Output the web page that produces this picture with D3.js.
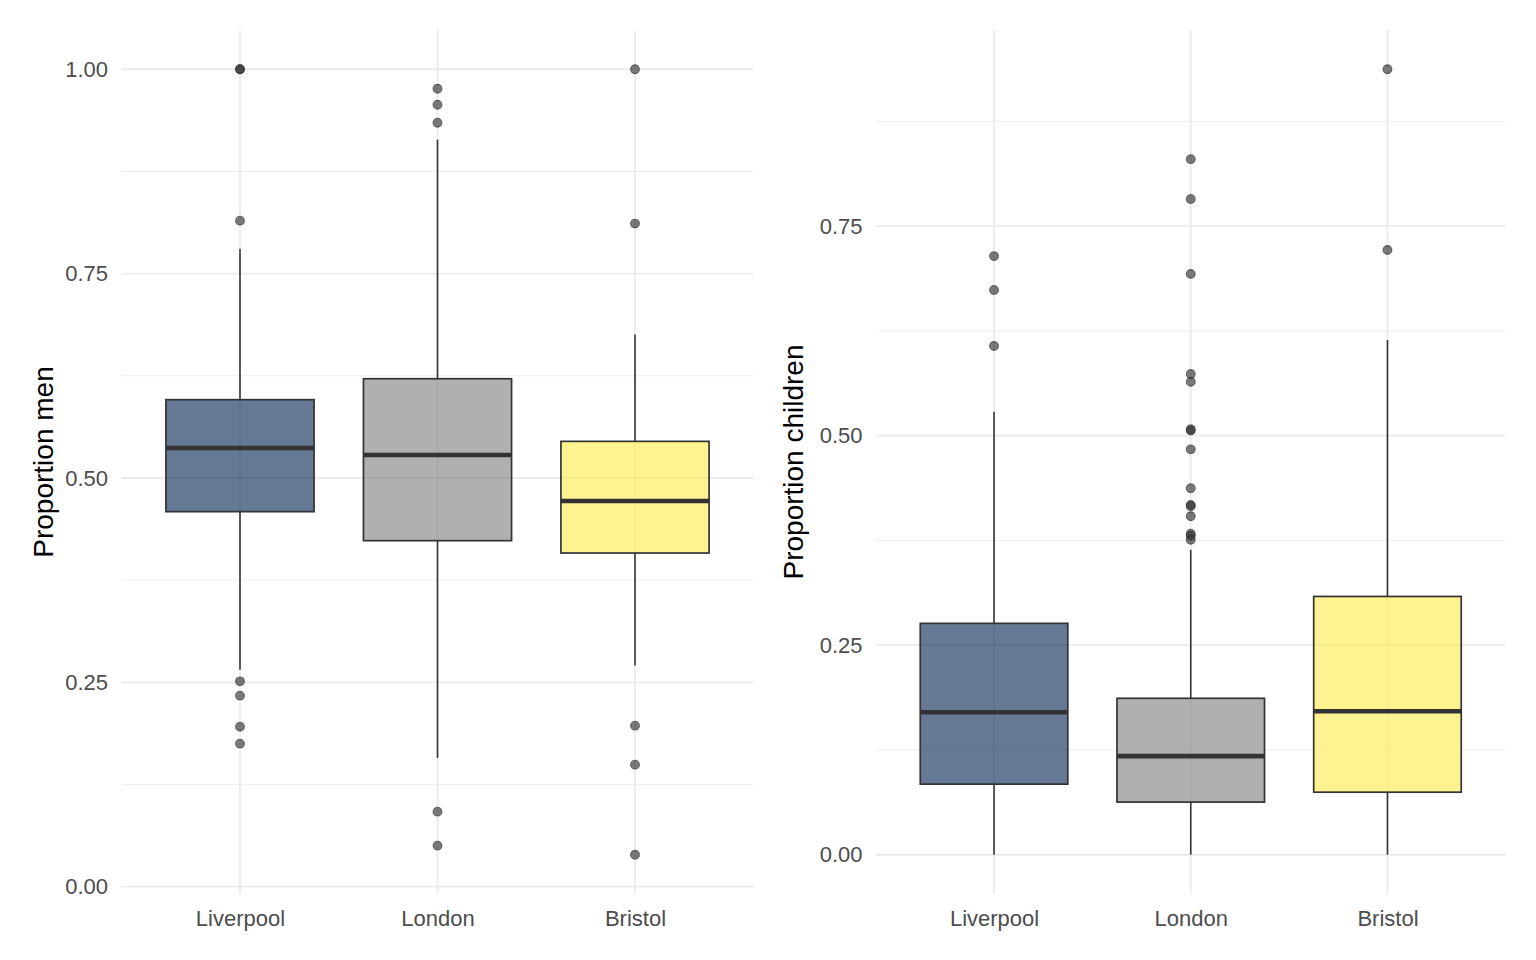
<!DOCTYPE html>
<html>
<head>
<meta charset="utf-8">
<script src="https://cdn.jsdelivr.net/npm/d3@7"></script>
<style>
  html, body { margin: 0; padding: 0; background: #fff; }
  svg { display: block; font-family: 'Liberation Sans', Arial, sans-serif; }
</style>
</head>
<body>
<svg id="canvas"></svg>
<script>
const width = 1536;
const height = 960;

const cities = ['Liverpool', 'London', 'Bristol'];
const cityColours = ['#00204D', '#7C7B78', '#FFEA46'];

// proportion men (left panel)
const menLower = [0.2655, 0.1574, 0.2707];
const menQ1 = [0.4588, 0.4233, 0.4082];
const menMedian = [0.5367, 0.5281, 0.4719];
const menQ3 = [0.5958, 0.6214, 0.5448];
const menUpper = [0.7805, 0.9139, 0.6754];
const menOutliers = [
    [1.0, 1.0, 0.8148, 0.2512, 0.2337, 0.1957, 0.1750],
    [0.9762, 0.9566, 0.9345, 0.0918, 0.0502],
    [1.0, 0.8112, 0.1970, 0.1493, 0.0391]
];
const menTicks = [0, 0.25, 0.5, 0.75, 1.0];

// proportion children (right panel)
const childLower = [0, 0, 0];
const childQ1 = [0.0842, 0.0628, 0.0746];
const childMedian = [0.1700, 0.1176, 0.1711];
const childQ3 = [0.2760, 0.1866, 0.3081];
const childUpper = [0.5283, 0.3637, 0.6141];
const childOutliers = [
    [0.7141, 0.6736, 0.6069],
    [0.8298, 0.7822, 0.6929, 0.5734, 0.5642, 0.5075, 0.5060, 0.4836, 0.4371,
     0.4172, 0.4158, 0.4038, 0.3830, 0.3805, 0.3757],
    [0.9370, 0.7214]
];
const childTicks = [0, 0.25, 0.5, 0.75];

const panelTop = 30;
const panelBottom = 894;

const svg = d3.select('#canvas')
    .attr('width', width)
    .attr('height', height)

svg.append('rect')
    .attr('width', width)
    .attr('height', height)
    .attr('fill', '#fff')

const fmt = d3.format('.2f');

const drawPanel = (p) => {
    const rows = cities.map((c, i) => ({
        city: c,
        colour: cityColours[i],
        lower: p.lower[i],
        q1: p.q1[i],
        median: p.median[i],
        q3: p.q3[i],
        upper: p.upper[i],
        outliers: p.outliers[i]
    }));

    // ggplot style 5% expansion of the data range
    const all = rows.flatMap(d => [d.lower, d.upper, ...d.outliers]);
    const lo = d3.min(all);
    const hi = d3.max(all);
    const pad = (hi - lo) * 0.05;

    const y = d3.scaleLinear()
        .domain([lo - pad, hi + pad])
        .range([panelBottom, panelTop]);

    const x = d3.scalePoint()
        .domain(cities)
        .range([p.left, p.right])
        .padding(0.6);

    const boxW = x.step() * 0.75;

    const g = svg.append('g');

    // minor gridlines
    const minor = p.ticks.slice(0, -1).map((t, i) => (t + p.ticks[i + 1]) / 2)
        .concat([p.ticks[p.ticks.length - 1] + 0.125])
        .filter(v => v < y.domain()[1]);

    g.selectAll('.minor')
        .data(minor)
        .enter()
        .append('line')
        .attr('x1', p.left)
        .attr('x2', p.right)
        .attr('y1', d => y(d))
        .attr('y2', d => y(d))
        .attr('stroke', '#EBEBEB')
        .attr('stroke-width', 0.9)

    g.selectAll('.major')
        .data(p.ticks)
        .enter()
        .append('line')
        .attr('x1', p.left)
        .attr('x2', p.right)
        .attr('y1', d => y(d))
        .attr('y2', d => y(d))
        .attr('stroke', '#EBEBEB')
        .attr('stroke-width', 1.8)

    g.selectAll('.vgrid')
        .data(cities)
        .enter()
        .append('line')
        .attr('x1', d => x(d))
        .attr('x2', d => x(d))
        .attr('y1', panelTop)
        .attr('y2', panelBottom)
        .attr('stroke', '#EBEBEB')
        .attr('stroke-width', 1.8)

    // axes (labels only)
    const yAxis = d3.axisLeft(y)
        .tickValues(p.ticks)
        .tickFormat(fmt)
        .tickSize(0)
        .tickPadding(13.5)

    const xAxis = d3.axisBottom(x)
        .tickSize(0)
        .tickPadding(16.4)

    const ya = g.append('g')
        .attr('transform', 'translate(' + p.left + ',0)')
        .call(yAxis)
    ya.select('.domain').remove()
    ya.selectAll('text')
        .attr('font-size', 22)
        .attr('font-family', "'Liberation Sans', Arial, sans-serif")
        .attr('fill', '#4D4D4D')

    const xa = g.append('g')
        .attr('transform', 'translate(0,' + panelBottom + ')')
        .call(xAxis)
    xa.select('.domain').remove()
    xa.selectAll('text')
        .attr('font-size', 22)
        .attr('font-family', "'Liberation Sans', Arial, sans-serif")
        .attr('fill', '#4D4D4D')

    // axis title
    g.append('text')
        .attr('transform', 'translate(' + p.titleX + ',' + ((panelTop + panelBottom) / 2) + ') rotate(-90)')
        .attr('text-anchor', 'middle')
        .attr('font-size', 28)
        .attr('fill', '#000')
        .text(p.title)

    // outliers
    const pts = rows.flatMap(d => d.outliers.map(v => ({ city: d.city, v: v })));
    g.selectAll('.outlier')
        .data(pts)
        .enter()
        .append('circle')
        .attr('cx', d => x(d.city))
        .attr('cy', d => y(d.v))
        .attr('r', 4.4)
        .attr('fill', '#333333')
        .attr('fill-opacity', 0.65)
        .attr('stroke', '#333333')
        .attr('stroke-opacity', 0.65)
        .attr('stroke-width', 1.1)

    // whiskers
    const box = g.selectAll('.box')
        .data(rows)
        .enter()
        .append('g')

    box.append('line')
        .attr('x1', d => x(d.city))
        .attr('x2', d => x(d.city))
        .attr('y1', d => y(d.upper))
        .attr('y2', d => y(d.q3))
        .attr('stroke', '#333333')
        .attr('stroke-width', 1.6)

    box.append('line')
        .attr('x1', d => x(d.city))
        .attr('x2', d => x(d.city))
        .attr('y1', d => y(d.q1))
        .attr('y2', d => y(d.lower))
        .attr('stroke', '#333333')
        .attr('stroke-width', 1.6)

    box.append('rect')
        .attr('x', d => x(d.city) - boxW / 2)
        .attr('width', boxW)
        .attr('y', d => y(d.q3))
        .attr('height', d => y(d.q1) - y(d.q3))
        .attr('fill', d => d.colour)
        .attr('fill-opacity', 0.6)
        .attr('stroke', '#333333')
        .attr('stroke-width', 1.7)

    box.append('line')
        .attr('x1', d => x(d.city) - boxW / 2)
        .attr('x2', d => x(d.city) + boxW / 2)
        .attr('y1', d => y(d.median))
        .attr('y2', d => y(d.median))
        .attr('stroke', '#333333')
        .attr('stroke-width', 4.6)
}

drawPanel({
    left: 121.5, right: 753.5, titleX: 53,
    title: 'Proportion men', ticks: menTicks,
    lower: menLower, q1: menQ1, median: menMedian, q3: menQ3, upper: menUpper,
    outliers: menOutliers
});

drawPanel({
    left: 876, right: 1505.5, titleX: 803,
    title: 'Proportion children', ticks: childTicks,
    lower: childLower, q1: childQ1, median: childMedian, q3: childQ3, upper: childUpper,
    outliers: childOutliers
});
</script>
</body>
</html>
